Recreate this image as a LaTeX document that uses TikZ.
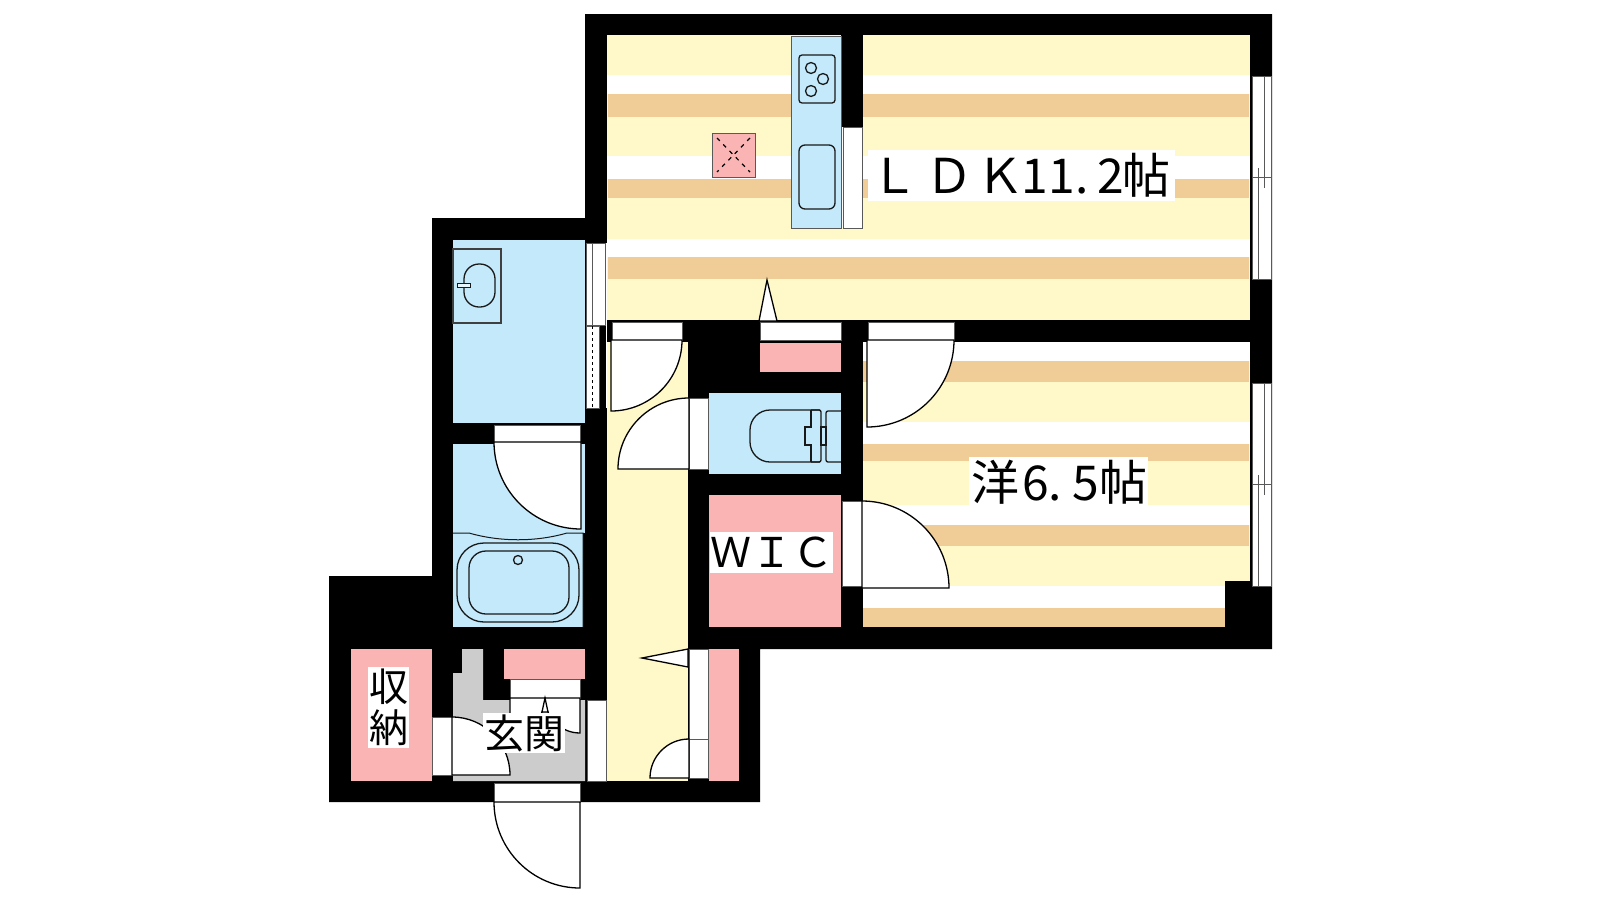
\documentclass[tikz,border=0pt]{standalone}
\usepackage{fontspec}
\setmainfont{Noto Sans CJK JP}
\usepackage{xcolor}
\definecolor{floor}{HTML}{FFF8C8}
\definecolor{plank}{HTML}{F0CC96}
\definecolor{wet}{HTML}{C3E9FB}
\definecolor{closet}{HTML}{FBB4B4}
\definecolor{entry}{HTML}{CCCCCC}
\tikzset{
  fixture/.style={draw=black!90,line width=1.3pt},
  panel/.style={draw=black!65,fill=white,line width=1pt},
  leaf/.style={draw=black,fill=white,line width=1.3pt},
  roomlabel/.style={fill=white,inner sep=0pt,text=black,align=center},
}
\def\doorleaf#1#2#3#4{\draw[leaf] (#1,#2) -- ([shift={(#4:#3pt)}]#1,#2) arc[start angle=#4,delta angle=90,radius=#3pt] -- cycle;}

\begin{document}
\begin{tikzpicture}[x=1pt,y=-1pt]
\def\plan{(585,14) -- (1272,14) -- (1272,649) -- (760,649) -- (760,802) -- (329,802) -- (329,576) -- (432,576) -- (432,218) -- (585,218) -- cycle}
  \useasboundingbox (0,0) rectangle (1600,900);
  \fill[white] (0,0) rectangle (1600,900);
  \fill[black] \plan;
  % floors
  \fill[floor] (607,35) rectangle (1250,320);
  \fill[floor] (863,342) rectangle (1250,627);
  \fill[floor] (607,342) rectangle (688,781);
  \foreach \ya/\yb/\yc in {75/94/117,156/179/198,239/257/279}{
    \fill[white] (607,\ya) rectangle (1250,\yb);
    \fill[plank] (608,\yb) rectangle (1249,\yc);
  }
  \foreach \ya/\yb/\yc in {342/361/382,422/444/461,505/525/546,586/608/627}{
    \fill[white] (863,\ya) rectangle (1250,\yb);
    \fill[plank] (863,\yb) rectangle (1249,\yc);
  }
  \fill[black] (1225,581) rectangle (1272,649);
  \fill[black] (841,35) rectangle (863,127);
  % wet rooms
  \fill[wet] (453,240) rectangle (585,423);
  \fill[wet] (453,444) rectangle (585,533);
  \fill[wet] (453,533) rectangle (583,627);
  \fill[wet] (709,393) rectangle (841,474);
  % closets
  \fill[closet] (351,649) rectangle (432,781);
  \fill[closet] (504,649) rectangle (585,679);
  \fill[closet] (760,343) rectangle (841,372);
  \fill[closet] (709,495) rectangle (841,627);
  \fill[closet] (709,649) rectangle (739,781);
  % entry
  \fill[entry] (462,649) -- (483,649) -- (483,700) -- (585,700) -- (585,781) -- (453,781) -- (453,673) -- (462,673) -- cycle;
  % door panels
  \fill[white] (841,127) rectangle (863,228);
  \foreach \xa/\ya/\xb/\yb in {612/322/682/340,689/398/708/469,494/425/580/442,760/322/841/340,868/322/954/340,842/501/862/586,494/783/580/802,432/717/452/775,587/700/606/781,510/679/580/698,689/649/708/739,689/739/708/778,843/127/862/228}
    \draw[panel] (\xa,\ya) rectangle (\xb,\yb);
  \doorleaf{580}{802}{86}{180}
  \doorleaf{452}{775}{58}{0}
  \doorleaf{580}{698}{35}{180}
  \doorleaf{510}{698}{35}{270}
  \doorleaf{611}{340}{71}{270}
  \doorleaf{689}{469}{71}{90}
  \doorleaf{581}{442}{87}{180}
  \doorleaf{867}{340}{87}{270}
  \doorleaf{862}{588}{87}{0}
  \doorleaf{689}{778}{39}{90}
  \draw[leaf] (767,280) -- (759,321) -- (777,321) -- cycle;
  \draw[leaf] (642,658) -- (688,649) -- (688,667) -- cycle;
  \draw[leaf] (545,698) -- (542,712) -- (548,712) -- cycle;
  % side windows
  \draw[panel] (586,243) rectangle (605,325);
  \draw[panel] (592,243) -- (592,325);
  \draw[panel] (586,326) rectangle (599,408);
  \draw[panel,dashed,draw=black] (592,326) -- (592,408);
  \fill[white] (606,243) rectangle (607,408);
  \foreach \ya/\ym/\yb in {76/177/279,383/484/586}{
    \draw[panel] (1252,\ya) rectangle (1271,\yb);
    \draw[panel] (1258,\ym) ++(0,-9) -- (1258,\yb);
    \draw[panel] (1264,\ya) -- (1264,\ym) -- ++(0,11);
    \draw[panel] (1252,\ym) -- (1271,\ym);
  }
  % kitchen
  \draw[panel,fill=wet] (791,36) rectangle (841,228);
  \draw[fixture,rounded corners=3pt] (799,55) rectangle (835,103);
  \draw[fixture,rounded corners=6pt] (799,145) rectangle (835,209);
  \foreach \bx/\by in {811/68,823/79,811/91}
    \draw[fixture] (\bx,\by) circle (5.5pt);
  % vent
  \draw[panel,fill=closet] (712,133) rectangle (755,177);
  \draw[black,line width=1.2pt,dash pattern=on 4pt off 5pt] (717,138) -- (750,172) (750,138) -- (717,172);
  % basin
  \draw[fixture,draw=black!75] (453,249) rectangle (501,323);
  \draw[fixture,rounded corners=15pt] (464,264) rectangle (495,307);
  \draw[fixture,fill=white!60!wet,line width=1pt] (457,283) rectangle (470,287);
  % tub
  \draw[fixture,line width=1pt] (453,533) -- (469,533) .. controls (500,542) and (536,542) .. (567,533) -- (583,533) -- (583,627);
  \draw[fixture,rounded corners=27pt] (457,543) rectangle (579,622);
  \draw[fixture,rounded corners=17pt] (469,551) rectangle (569,614);
  \draw[fixture] (518,560) circle (4.5pt);
  % toilet
  \draw[fixture,rounded corners=20pt] (820,410) -- (750,410) -- (750,462) -- (820,462);
  \draw[fixture,rounded corners=2pt] (811,410) -- (821,410) -- (821,462) -- (811,462);
  \draw[fixture] (811,410) -- (811,427) -- (805,427) -- (805,445) -- (811,445) -- (811,462);
  \draw[fixture] (821,427) rectangle (826,445);
  \draw[fixture,rounded corners=2pt] (841,411) -- (826,411) -- (826,462) -- (841,462);
  % labels
  \node[roomlabel,minimum width=307pt,minimum height=51pt,font=\fontsize{48}{48}\selectfont] (ldk) at (1021.5,175.5) {\kern-4ptＬ\kern7ptＤ\kern3ptＫ\kern-3pt11.\kern9pt2\kern-2pt帖\kern-2pt};
  \node[roomlabel,minimum width=179pt,minimum height=50pt,font=\fontsize{48}{48}\selectfont] (bedroom) at (1058.5,482) {\kern2pt洋\kern2.7pt6.\kern10pt5\kern1pt帖};
  \node[roomlabel,minimum width=123pt,minimum height=41pt,font=\fontsize{41}{41}\selectfont] (wic) at (771.5,552.5) {ＷＩＣ};
  \node[roomlabel,minimum width=41pt,minimum height=81pt,font=\fontsize{39}{41}\selectfont] (storage) at (388.5,707.5) {収\\納};
  \node[roomlabel,minimum width=82pt,minimum height=40pt,font=\fontsize{40}{40}\selectfont] (genkan) at (524,733) {玄関};
\end{tikzpicture}
\end{document}
